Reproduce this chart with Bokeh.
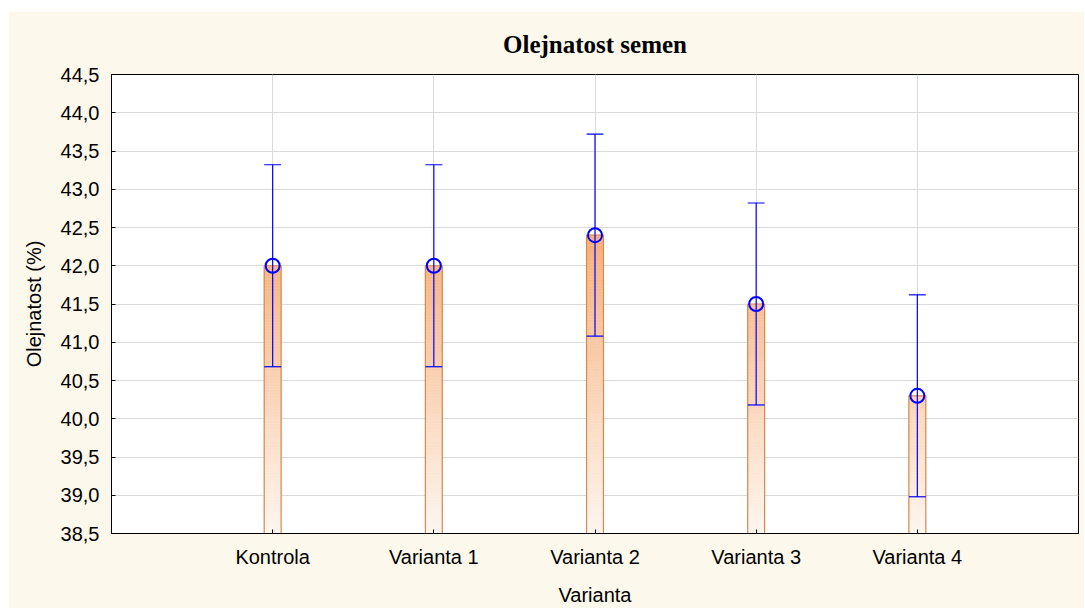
import numpy as np
from bokeh.plotting import figure
from bokeh.models import FixedTicker, Title, Spacer
from bokeh.layouts import column, row
from bokeh.embed import file_html
from bokeh.resources import INLINE

title = "Olejnatost semen"
categories = ["Kontrola", "Varianta 1", "Varianta 2", "Varianta 3", "Varianta 4"]
means = [42.0, 42.0, 42.4, 41.5, 40.3]
lower = [40.68, 40.68, 41.08, 40.18, 38.98]
upper = [43.32, 43.32, 43.72, 42.82, 41.62]
y_ticks = [38.5, 39.0, 39.5, 40.0, 40.5, 41.0, 41.5, 42.0, 42.5, 43.0, 43.5, 44.0, 44.5]

Y0, Y1 = 38.5, 44.5
xs = [i + 1 for i in range(len(categories))]
BW = 0.105

p = figure(width=1076, height=597, output_backend="svg", toolbar_location=None,
           x_range=(0, 6), y_range=(Y0, Y1),
           min_border_left=103, min_border_right=6, min_border_top=63, min_border_bottom=75,
           background_fill_color="white", border_fill_color="#FDF8EC")
p.title = Title(text=title, align="center", text_font="Liberation Serif",
                text_font_size="25px", text_font_style="bold", text_color="black", offset=0, standoff=33)

# gradient bars (slices coloured by absolute y)
top_c = np.array([245, 172, 115])
bot_c = np.array([254, 246, 240])
def col(y):
    t = np.clip((y - Y0) / (42.6 - Y0), 0, 1)
    c = bot_c + (top_c - bot_c) * t
    return "#%02x%02x%02x" % tuple(int(round(v)) for v in c)

L, R, B, T, C = [], [], [], [], []
for x, m in zip(xs, means):
    edges = np.arange(Y0, m, 0.04)
    edges = np.append(edges, m)
    for b, t in zip(edges[:-1], edges[1:]):
        L.append(x - BW / 2); R.append(x + BW / 2); B.append(b); T.append(t); C.append(col((b + t) / 2))
p.quad(left=L, right=R, bottom=B, top=T, fill_color=C, line_color=C, line_width=0.5)
p.quad(left=[x - BW / 2 for x in xs], right=[x + BW / 2 for x in xs], bottom=[Y0] * len(xs), top=means,
       fill_color=None, line_color="#D9884E", line_width=1.2)

# error bars
p.segment(x0=xs, x1=xs, y0=lower, y1=upper, line_color="#0000FF", line_width=1.2)
p.segment(x0=[x - BW / 2 for x in xs], x1=[x + BW / 2 for x in xs], y0=upper, y1=upper, line_color="#0000FF", line_width=1.2)
p.segment(x0=[x - BW / 2 for x in xs], x1=[x + BW / 2 for x in xs], y0=lower, y1=lower, line_color="#0000FF", line_width=1.2)
p.scatter(xs, means, size=14, marker="circle", fill_color=None, line_color="#0000FF", line_width=2)

p.xaxis.ticker = FixedTicker(ticks=xs)
p.xaxis.major_label_overrides = {x: c for x, c in zip(xs, categories)}
p.yaxis.ticker = FixedTicker(ticks=y_ticks)
p.yaxis.major_label_overrides = {v: ("%.1f" % v).replace(".", ",") for v in y_ticks}
p.xaxis.axis_label = "Varianta"
p.yaxis.axis_label = "Olejnatost (%)"
for ax in (p.xaxis, p.yaxis):
    ax.major_label_text_font = "Liberation Sans"
    ax.major_label_text_font_size = "20px"
    ax.major_label_text_color = "black"
    ax.axis_label_text_font = "Liberation Sans"
    ax.axis_label_text_font_size = "20px"
    ax.axis_label_text_font_style = "normal"
    ax.axis_label_text_color = "black"
    ax.major_tick_in = 4
    ax.major_tick_out = 0
    ax.minor_tick_line_color = None
    ax.axis_line_color = "black"
    ax.major_tick_line_color = "black"
p.xaxis.major_label_standoff = 12
p.xaxis.axis_label_standoff = 13
p.yaxis.major_label_standoff = 12
p.yaxis.axis_label_standoff = 13

p.grid.grid_line_color = "#DADADA"
p.grid.grid_line_width = 1
p.outline_line_color = "black"
p.outline_line_width = 1
p.outline_line_alpha = 1

layout = column(Spacer(height=11), row(Spacer(width=8), p))
open("out.html", "w").write(file_html(layout, INLINE))
